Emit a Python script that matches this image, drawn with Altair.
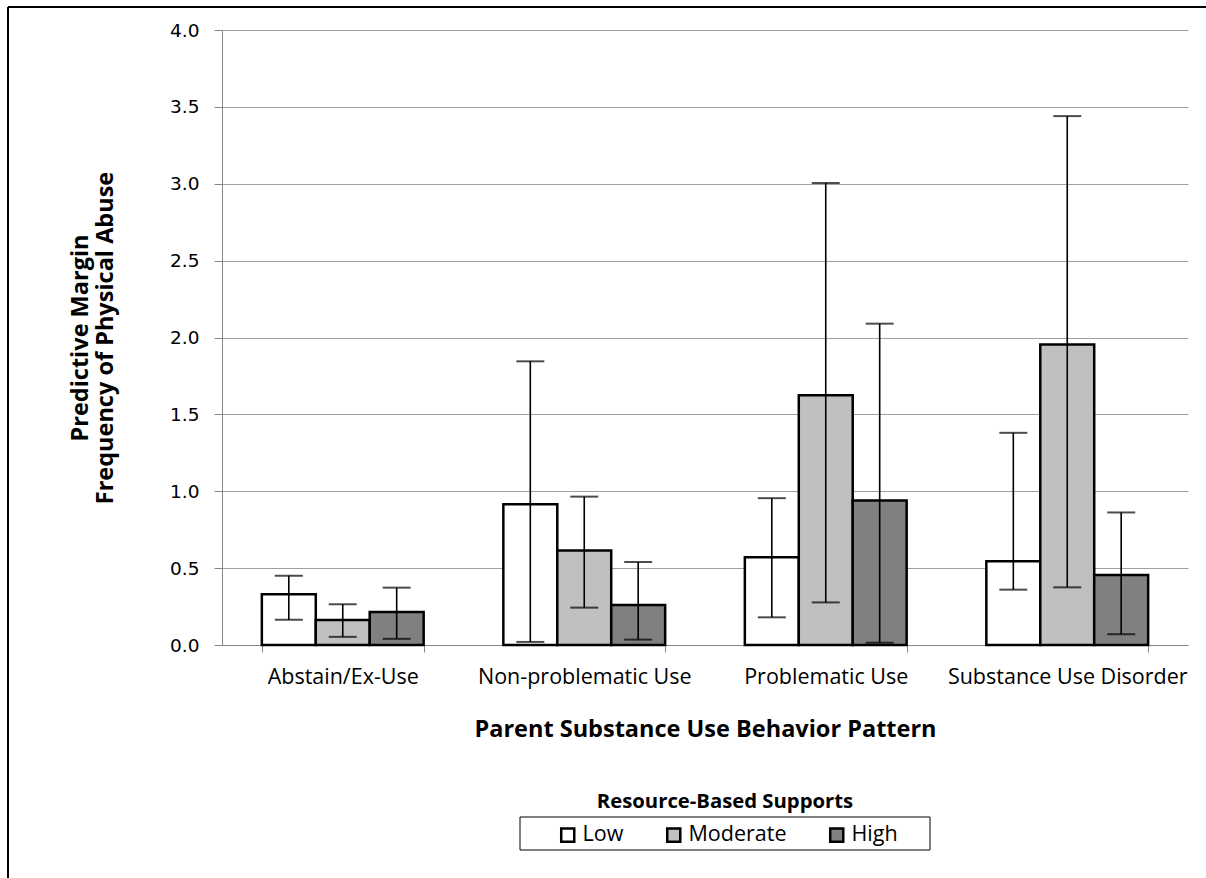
import altair as alt
import pandas as pd

categories = ["Abstain/Ex-Use", "Non-problematic Use", "Problematic Use", "Substance Use Disorder"]
supports = ["Low", "Moderate", "High"]
low_vals = [0.33, 0.915, 0.57, 0.545]
low_lo = [0.165, 0.02, 0.18, 0.36]
low_hi = [0.45, 1.845, 0.955, 1.38]
mod_vals = [0.163, 0.615, 1.625, 1.955]
mod_lo = [0.053, 0.243, 0.277, 0.375]
mod_hi = [0.265, 0.965, 3.005, 3.44]
high_vals = [0.215, 0.26, 0.94, 0.455]
high_lo = [0.04, 0.035, 0.015, 0.07]
high_hi = [0.373, 0.54, 2.09, 0.862]
fill_colors = ["#ffffff", "#c0c0c0", "#808080"]
y_ticks = [0, 0.5, 1.0, 1.5, 2.0, 2.5, 3.0, 3.5, 4.0]

rows = []
for s, vals, lo, hi in [("Low", low_vals, low_lo, low_hi),
                         ("Moderate", mod_vals, mod_lo, mod_hi),
                         ("High", high_vals, high_lo, high_hi)]:
    for c, v, l, h in zip(categories, vals, lo, hi):
        rows.append({"category": c, "support": s, "value": v, "lower": l, "upper": h})
df = pd.DataFrame(rows)

FONT = "Open Sans"

x_enc = alt.X(
    "category:N",
    sort=categories,
    scale=alt.Scale(paddingInner=0.33, paddingOuter=0.165),
    axis=alt.Axis(
        title="Parent Substance Use Behavior Pattern",
        titleFont=FONT, titleFontSize=23.5, titleFontWeight="bold", titleColor="#000000",
        titlePadding=30,
        labelFont=FONT, labelFontSize=21.5, labelColor="#000000", labelAngle=0,
        labelPadding=14, labelLimit=400,
        domainColor="#868686", tickColor="#868686", tickSize=7, tickBand="extent",
        grid=False,
    ),
)
xoff = alt.XOffset("support:N", sort=supports, scale=alt.Scale(paddingInner=0, paddingOuter=0))

y_scale = alt.Scale(domain=[0, 4], nice=False)

base = alt.Chart(df)

bars = base.mark_bar(stroke="black", strokeWidth=2.5).encode(
    x=x_enc,
    xOffset=xoff,
    y=alt.Y(
        "value:Q",
        scale=y_scale,
        axis=alt.Axis(
            title=["Predictive Margin", "Frequency of Physical Abuse"],
            titleFont=FONT, titleFontSize=23.5, titleFontWeight="bold", titleColor="#000000",
            titleLineHeight=25, titlePadding=52,
            labelFont="DejaVu Sans", labelFontSize=18.5, labelColor="#000000",
            labelPadding=15, format=".1f", values=y_ticks,
            domainColor="#868686", tickColor="#868686", tickSize=8,
            grid=True, gridColor="#a0a0a0", gridWidth=1,
        ),
    ),
    color=alt.Color(
        "support:N",
        sort=supports,
        scale=alt.Scale(domain=supports, range=fill_colors),
        legend=alt.Legend(
            title=None, orient="none", direction="horizontal",
            legendX=335, legendY=794,
            symbolType="square", symbolSize=170, symbolStrokeColor="black",
            symbolStrokeWidth=2.5, symbolOpacity=1,
            labelFont=FONT, labelFontSize=21.5, labelColor="#000000",
            labelOffset=4, columnPadding=38, padding=0,
        ),
    ),
)

rules = base.mark_rule(color="black", strokeWidth=1.6).encode(
    x=alt.X("category:N", sort=categories),
    xOffset=xoff,
    y=alt.Y("lower:Q", scale=y_scale),
    y2="upper:Q",
)
cap_hi = base.mark_tick(color="black", thickness=2, size=28, orient="horizontal").encode(
    x=alt.X("category:N", sort=categories),
    xOffset=xoff,
    y=alt.Y("upper:Q", scale=y_scale),
)
cap_lo = base.mark_tick(color="black", thickness=2, size=28, orient="horizontal").encode(
    x=alt.X("category:N", sort=categories),
    xOffset=xoff,
    y=alt.Y("lower:Q", scale=y_scale),
)

one = alt.Data(values=[{"k": 1}])
legend_box = alt.Chart(one).mark_rect(fill="white", fillOpacity=0, stroke="black", strokeWidth=1).encode(
    x=alt.value(298), x2=alt.value(708), y=alt.value(787), y2=alt.value(820)
)
legend_title = alt.Chart(one).mark_text(
    text="Resource-Based Supports", font=FONT, fontSize=20.3, fontWeight="bold",
    color="#000000", align="center", baseline="middle"
).encode(x=alt.value(503), y=alt.value(772))
frame_left = alt.Chart(one).mark_rule(color="black", strokeWidth=2).encode(
    x=alt.value(-214), y=alt.value(-23), y2=alt.value(870)
)
frame_top = alt.Chart(one).mark_rule(color="black", strokeWidth=2).encode(
    x=alt.value(-214), x2=alt.value(1000), y=alt.value(-23)
)

chart = alt.layer(bars, rules, cap_hi, cap_lo, legend_box, legend_title, frame_left, frame_top).properties(
    width=966, height=615,
    autosize=alt.AutoSizeParams(type="none"),
    padding={"left": 222, "top": 30, "right": 18, "bottom": 233},
    background="white",
).configure_view(stroke=None)

chart.save("out.html", embed_options={"renderer": "svg", "actions": False})
